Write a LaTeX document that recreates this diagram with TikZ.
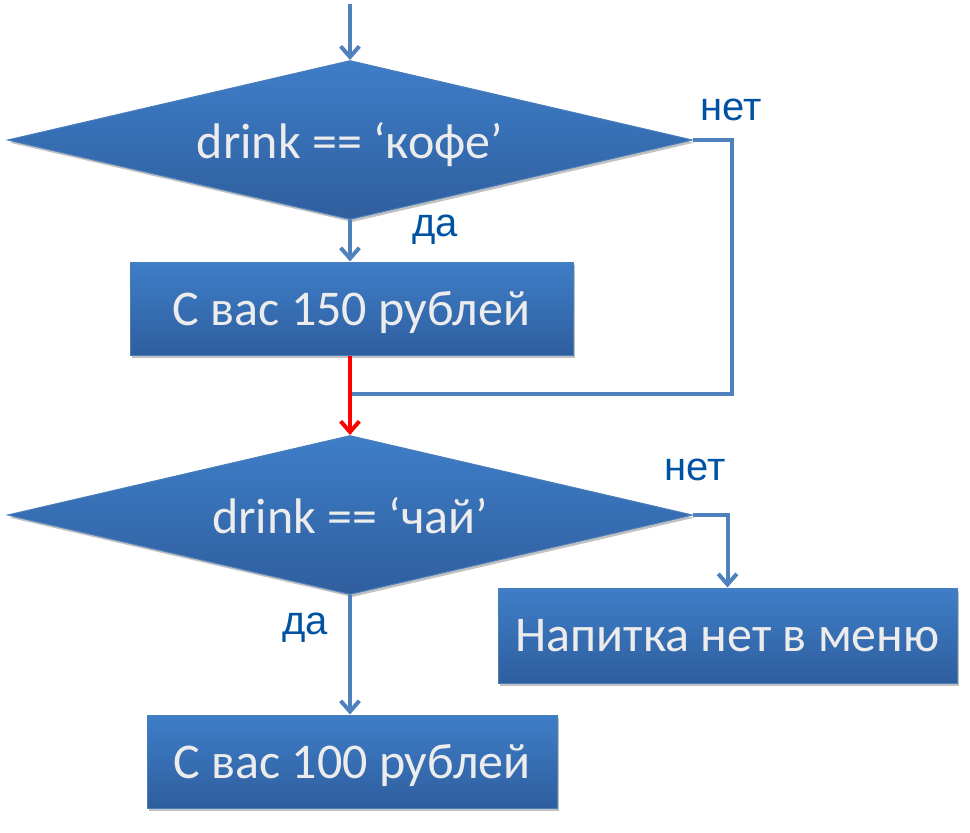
\documentclass[tikz,border=0pt]{standalone}
\usepackage{fontspec}
\setmainfont{Carlito}
\newfontfamily\labelfont{Liberation Sans}
\usetikzlibrary{shapes.geometric,arrows.meta,shadows}
\definecolor{flowtop}{RGB}{62,126,200}
\definecolor{flowbot}{RGB}{47,94,158}
\definecolor{flowedge}{RGB}{74,126,187}
\definecolor{lineblue}{RGB}{79,129,189}
\definecolor{labelblue}{RGB}{0,82,162}
\definecolor{txtwhite}{RGB}{236,236,236}
\tikzset{
  px/.style={x=0.75pt,y=-0.75pt},
  flowshape/.style={top color=flowtop,bottom color=flowbot,draw=flowedge,line width=0.75pt,
    text=txtwhite,font=\fontsize{37.5}{40}\selectfont,inner sep=0pt,text depth=0pt,
    drop shadow={shadow xshift=1.5pt,shadow yshift=-2pt,opacity=0.35,fill=black!70}},
  decision/.style={flowshape,diamond,aspect=4.3},
  procbox/.style={flowshape,rectangle},
  conn/.style={draw=lineblue,line width=3pt},
  arr/.style={conn,-{Straight Barb[length=8pt,width=14pt,line width=3pt]}},
  redarr/.style={draw=red,line width=3pt,-{Straight Barb[length=8pt,width=14pt,line width=3pt]}},
  lbl/.style={text=labelblue,font=\labelfont\fontsize{30}{32}\selectfont,inner sep=0pt}
}
\begin{document}
\begin{tikzpicture}[px]
\useasboundingbox (0,0) rectangle (970,832);
\node[decision,minimum width=513.75pt,minimum height=119.25pt] (d1) at (350,140) {drink == ‘кофе’};
\node[procbox,minimum width=332.25pt,minimum height=69.75pt] (r1) at (351.5,308.5) {С вас 150 рублей};
\node[decision,minimum width=513.75pt,minimum height=119.25pt] (d2) at (350,515) {drink == ‘чай’};
\node[procbox,minimum width=344.25pt,minimum height=71.25pt] (r3) at (727.5,635.5) {Напитка нет в меню};
\node[procbox,minimum width=307.5pt,minimum height=69.75pt] (r2) at (352,761.5) {С вас 100 рублей};
\coordinate (start) at (350,4);
\coordinate (join) at (350,394);
\draw[arr] (start) -- (d1.north);
\draw[arr] (d1.south) -- (d1.south |- r1.north);
\draw[conn] (d1.east) -- ++(39,0) |- (join);
\draw[redarr] (r1.south -| d2.north) -- (d2.north);
\draw[arr] (d2.east) -| (r3.north);
\draw[arr] (d2.south) -- (d2.south |- r2.north);
\node[lbl] (l1) at (731,110) {нет};
\node[lbl] (l2) at (435,230) {да};
\node[lbl] (l3) at (695,470) {нет};
\node[lbl] (l4) at (305,628) {да};
\end{tikzpicture}
\end{document}
